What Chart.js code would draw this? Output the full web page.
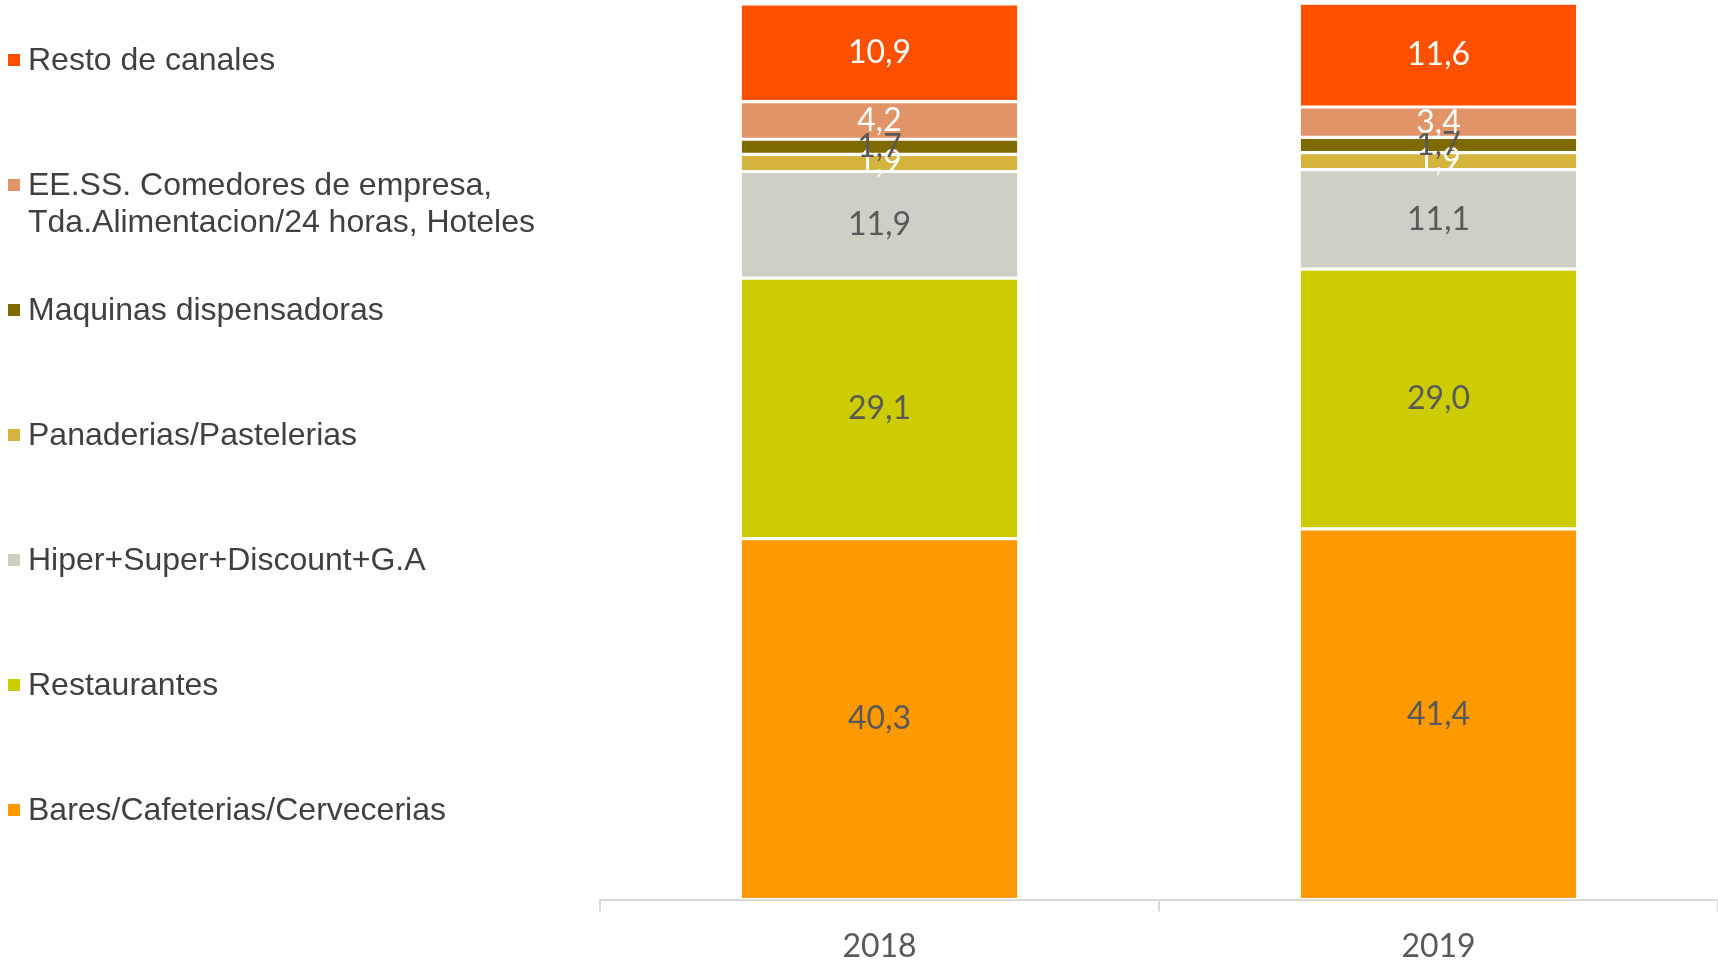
<!DOCTYPE html>
<html>
<head>
<meta charset="utf-8">
<script src="https://cdn.jsdelivr.net/npm/chart.js@4.4.1/dist/chart.umd.min.js"></script>
<style>
  body { margin: 0; background: #fff; }
  #wrap { position: relative; width: 1718px; height: 965px; }
  #legend { position: absolute; left: 0; top: 0; font-family: "Liberation Sans", Arial, sans-serif; font-size: 32px; color: #404040; }
  .item { position: absolute; left: 8px; white-space: pre; line-height: 37px; padding-left: 20px; }
  .item .box { position: absolute; left: 0; top: 13px; width: 12px; height: 12px; }
</style>
</head>
<body>
<div id="wrap">
  <canvas id="chart" width="1718" height="965"></canvas>
  <div id="legend"></div>
</div>
<script>
// Categories and series (bottom to top of the stack)
const years = ['2018', '2019'];
const seriesNames = [
    'Bares/Cafeterias/Cervecerias',
    'Restaurantes',
    'Hiper+Super+Discount+G.A',
    'Panaderias/Pastelerias',
    'Maquinas dispensadoras',
    'EE.SS. Comedores de empresa,\nTda.Alimentacion/24 horas, Hoteles',
    'Resto de canales'
];
const bares = [40.3, 41.4];
const restaurantes = [29.1, 29.0];
const hiper = [11.9, 11.1];
const panaderias = [1.9, 1.9];
const maquinas = [1.7, 1.7];
const eess = [4.2, 3.4];
const resto = [10.9, 11.6];

const seriesValues = [bares, restaurantes, hiper, panaderias, maquinas, eess, resto];
const seriesColors = ['#FF9900', '#CCCC00', '#CFCFC6', '#D4B43C', '#7F6A00', '#E09468', '#FF5000'];
const labelColors = ['#595959', '#595959', '#595959', '#FFFFFF', '#595959', '#FFFFFF', '#FFFFFF'];

// Legend on the left, top item is the last series
function buildLegend() {
    let legend = document.getElementById('legend');
    for (let k = 0; k < seriesNames.length; k++) {
        let i = seriesNames.length - 1 - k;
        let item = document.createElement('div');
        item.className = 'item';
        item.style.top = (59 - 18.5 + k * 125) + 'px';
        let box = document.createElement('span');
        box.className = 'box';
        box.style.background = seriesColors[i];
        item.appendChild(box);
        item.appendChild(document.createTextNode(seriesNames[i]));
        legend.appendChild(item);
    }
}

// Value labels in the middle of every segment
const valueLabels = {
    id: 'valueLabels',
    afterDatasetsDraw(chart) {
        let ctx = chart.ctx;
        ctx.save();
        ctx.font = '32px Lato';
        ctx.textAlign = 'center';
        ctx.textBaseline = 'middle';
        chart.data.datasets.forEach((ds, i) => {
            chart.getDatasetMeta(i).data.forEach((bar, j) => {
                let c = bar.getCenterPoint();
                ctx.fillStyle = labelColors[i];
                ctx.fillText(ds.data[j].toFixed(1).replace('.', ','), c.x, c.y);
            });
        });
        ctx.restore();
    }
};

function drawChart() {
    let ctx = document.getElementById('chart').getContext('2d');
    new Chart(ctx, {
        type: 'bar',
        data: {
            labels: years,
            datasets: seriesNames.map((name, i) => ({
                label: name,
                data: seriesValues[i],
                backgroundColor: seriesColors[i],
                borderColor: '#FFFFFF',
                borderWidth: 1.6,
                borderSkipped: false,
                categoryPercentage: 1,
                barPercentage: 0.498
            }))
        },
        options: {
            responsive: false,
            animation: false,
            layout: { padding: { left: 600, right: 0, top: 4, bottom: -17 } },
            plugins: {
                legend: { display: false },
                tooltip: { enabled: false }
            },
            scales: {
                x: {
                    stacked: true,
                    offset: true,
                    grid: {
                        offset: true,
                        drawOnChartArea: false,
                        color: '#D9D9D9',
                        lineWidth: 2,
                        tickLength: 12
                    },
                    border: { color: '#D9D9D9', width: 2 },
                    ticks: {
                        color: '#595959',
                        font: { family: 'Lato', size: 32 },
                        padding: 16
                    }
                },
                y: {
                    stacked: true,
                    display: false,
                    min: 0,
                    max: 100
                }
            }
        },
        plugins: [valueLabels]
    });
}

buildLegend();
document.fonts.load('32px Lato').then(drawChart, drawChart);
</script>
</body>
</html>
